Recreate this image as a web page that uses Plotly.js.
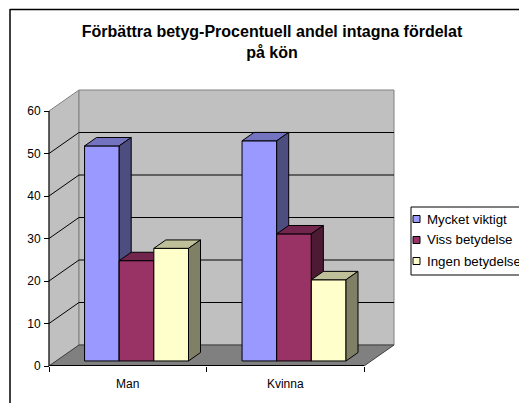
<!DOCTYPE html>
<html>
<head>
<meta charset="utf-8">
<script src="https://cdn.plot.ly/plotly-3.0.1.min.js"></script>
<style>
html,body{margin:0;padding:0;background:#fff;overflow:hidden;}
#chart{width:519px;height:403px;}
</style>
</head>
<body>
<div id="chart"></div>
<script>
// ---- data ----
const categories = ['Man', 'Kvinna'];
const seriesNames = ['Mycket viktigt', 'Viss betydelse', 'Ingen betydelse'];
const mycketViktigt = [50.6, 51.8];
const vissBetydelse = [23.6, 29.9];
const ingenBetydelse = [26.5, 19.1];
const yTicks = [0, 10, 20, 30, 40, 50, 60];
const titleText = 'Förbättra betyg-Procentuell andel intagna fördelat<br>på kön';

// ---- styling / geometry ----
const seriesValues = [mycketViktigt, vissBetydelse, ingenBetydelse];
const frontColors = ['#9999FF', '#993366', '#FFFFCC'];
const topColors   = ['#7373BF', '#73264D', '#BFBF99'];
const sideColors  = ['#4D4D80', '#4D1A33', '#808066'];
const FONT = 'Arial, "Liberation Sans", sans-serif';

const PX_X = 157.5, PX_Y = 4.25;          // pixels per data unit
const DX = 30 / PX_X, DY = 21 / PX_Y;     // depth offset in data units
const F0 = 0.24, F1 = 0.64;               // bar front/back depth fraction
const BAR_START = 0.18, BAR_W = 0.22;
const yMax = yTicks[yTicks.length - 1];
const nCat = categories.length;

const L = 47, T = 88, B = 37;
const W = 349, H = 278;
const R = 519 - L - W;
const xRange = [-2 / PX_X, nCat + DX + 2 / PX_X];
const yRange = [0, yMax + DY + 2 / PX_Y];
const px2paperX = px => (px - L) / W;
const px2paperY = py => (403 - B - py) / H;

const traces = [];
seriesValues.forEach((vals, s) => {
  const front = {x: [], y: []}, top = {x: [], y: []}, side = {x: [], y: []};
  vals.forEach((v, c) => {
    const xl = c + BAR_START + s * BAR_W, xr = xl + BAR_W;
    const y0f = F0 * DY, y0b = F1 * DY;
    front.x.push(xl + F0 * DX, xr + F0 * DX, xr + F0 * DX, xl + F0 * DX, xl + F0 * DX, null);
    front.y.push(y0f, y0f, y0f + v, y0f + v, y0f, null);
    top.x.push(xl + F0 * DX, xr + F0 * DX, xr + F1 * DX, xl + F1 * DX, xl + F0 * DX, null);
    top.y.push(y0f + v, y0f + v, y0b + v, y0b + v, y0f + v, null);
    side.x.push(xr + F0 * DX, xr + F1 * DX, xr + F1 * DX, xr + F0 * DX, xr + F0 * DX, null);
    side.y.push(y0f, y0b, y0b + v, y0f + v, y0f, null);
  });
  [[front, frontColors[s]], [top, topColors[s]], [side, sideColors[s]]].forEach(([p, col]) => {
    traces.push({
      type: 'scatter', mode: 'lines', x: p.x, y: p.y, fill: 'toself',
      fillcolor: col, line: {color: '#000', width: 1}, name: seriesNames[s],
      showlegend: false, hoverinfo: 'skip'
    });
  });
});

const shapes = [];
// walls & floor
shapes.push({type: 'path', xref: 'x', yref: 'y', layer: 'below',
  path: `M0,0 L0,${yMax} L${DX},${yMax + DY} L${DX},${DY} Z`,
  fillcolor: '#C0C0C0', line: {color: '#808080', width: 1}});
shapes.push({type: 'path', xref: 'x', yref: 'y', layer: 'below',
  path: `M${DX},${DY} L${DX},${yMax + DY} L${nCat + DX},${yMax + DY} L${nCat + DX},${DY} Z`,
  fillcolor: '#C0C0C0', line: {color: '#808080', width: 1}});
shapes.push({type: 'path', xref: 'x', yref: 'y', layer: 'below',
  path: `M0,0 L${nCat},0 L${nCat + DX},${DY} L${DX},${DY} Z`,
  fillcolor: '#808080', line: {color: '#404040', width: 1}});
// gridlines
yTicks.forEach(v => {
  if (v === 0 || v === yMax) return;
  shapes.push({type: 'line', xref: 'x', yref: 'y', layer: 'below', x0: 0, y0: v, x1: DX, y1: v + DY, line: {color: '#000', width: 1}});
  shapes.push({type: 'line', xref: 'x', yref: 'y', layer: 'below', x0: DX, y0: v + DY, x1: nCat + DX, y1: v + DY, line: {color: '#000', width: 1}});
});
// axis lines
shapes.push({type: 'line', xref: 'x', yref: 'y', layer: 'below', x0: 0, y0: 0, x1: 0, y1: yMax, line: {color: '#000', width: 1}});
shapes.push({type: 'line', xref: 'x', yref: 'y', layer: 'below', x0: 0, y0: 0, x1: nCat, y1: 0, line: {color: '#000', width: 2}});
// outer chart frame (left and top edges visible)
shapes.push({type: 'line', xref: 'paper', yref: 'paper', layer: 'above',
  x0: px2paperX(10), x1: px2paperX(10), y0: px2paperY(420), y1: px2paperY(9),
  line: {color: '#000', width: 1.5}});
shapes.push({type: 'line', xref: 'paper', yref: 'paper', layer: 'above',
  x0: px2paperX(10), x1: px2paperX(540), y0: px2paperY(9.5), y1: px2paperY(9.5),
  line: {color: '#000', width: 1.5}});
// legend box
const legTop = 207, legBottom = 275, legLeft = 411, rowY = [219, 240, 261];
shapes.push({type: 'rect', xref: 'paper', yref: 'paper', layer: 'above',
  x0: px2paperX(legLeft), x1: px2paperX(560), y0: px2paperY(legTop), y1: px2paperY(legBottom),
  line: {color: '#000', width: 1}, fillcolor: '#fff'});
const annotations = [];
seriesNames.forEach((n, s) => {
  shapes.push({type: 'rect', xref: 'paper', yref: 'paper', layer: 'above',
    x0: px2paperX(413), x1: px2paperX(420), y0: px2paperY(rowY[s] - 3.5), y1: px2paperY(rowY[s] + 3.5),
    line: {color: '#000', width: 1}, fillcolor: frontColors[s]});
  annotations.push({xref: 'paper', yref: 'paper', x: px2paperX(425), y: px2paperY(rowY[s]),
    xanchor: 'left', yanchor: 'middle', text: n, showarrow: false,
    font: {family: FONT, size: 13.3, color: '#000'}});
});

const layout = {
  width: 519, height: 403,
  margin: {l: L, r: R, t: T, b: B, autoexpand: false},
  paper_bgcolor: '#fff', plot_bgcolor: '#fff',
  showlegend: false,
  title: {text: '<b>' + titleText + '</b>', font: {family: FONT, size: 16, color: '#000'},
    x: 272 / 519, xanchor: 'center', xref: 'container', y: 1 - 37 / 403, yanchor: 'top', yref: 'container'},
  xaxis: {range: xRange, showgrid: false, zeroline: false, showline: false,
    tickmode: 'array', tickvals: categories.map((c, i) => i + 0.5), ticktext: categories,
    ticks: '', ticklabelstandoff: 9, tickfont: {family: FONT, size: 12, color: '#000'},
    minor: {tickmode: 'array', tickvals: categories.map((c, i) => i).concat([nCat]), ticks: 'outside', ticklen: 5, tickcolor: '#000', tickwidth: 1, showgrid: false},
    fixedrange: true},
  yaxis: {range: yRange, showgrid: false, zeroline: false, showline: false,
    anchor: 'free', position: 2 / W,
    tickmode: 'array', tickvals: yTicks, ticks: 'outside', ticklen: 5, tickcolor: '#000',
    ticklabelstandoff: 1,
    tickfont: {family: FONT, size: 12, color: '#000'}, fixedrange: true},
  shapes: shapes,
  annotations: annotations
};

Plotly.newPlot('chart', traces, layout, {displayModeBar: false, staticPlot: true});
</script>
</body>
</html>
